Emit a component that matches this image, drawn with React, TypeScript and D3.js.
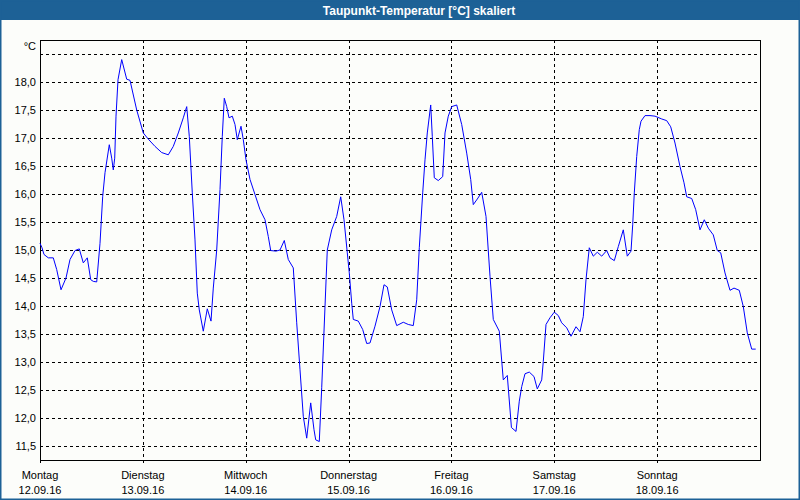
import React from "react";
import * as d3 from "d3";

const title = "Taupunkt-Temperatur [°C] skaliert";
const unitLabel = "°C";
const dayNames = ["Montag", "Dienstag", "Mittwoch", "Donnerstag", "Freitag", "Samstag", "Sonntag"];
const dayDates = ["12.09.16", "13.09.16", "14.09.16", "15.09.16", "16.09.16", "17.09.16", "18.09.16"];
const yTicks = [11.5, 12.0, 12.5, 13.0, 13.5, 14.0, 14.5, 15.0, 15.5, 16.0, 16.5, 17.0, 17.5, 18.0, 18.5];
const yLabelTicks = [11.5, 12.0, 12.5, 13.0, 13.5, 14.0, 14.5, 15.0, 15.5, 16.0, 16.5, 17.0, 17.5, 18.0];

// hours since Monday 12.09.16 00:00
const hours = [
  0.0, 0.47, 0.93, 1.94, 3.1, 3.9, 4.9, 6.07, 7.0, 8.17, 9.17, 10.1, 11.04, 11.83, 12.44, 13.23,
  14.0, 14.63, 15.17, 16.17, 16.73, 17.1, 17.43, 17.73, 18.2, 19.06, 20.23, 21.0, 22.56, 24.1,
  25.27, 26.83, 28.4, 29.94, 31.1, 32.27, 33.44, 34.23, 34.84, 35.54, 36.17, 36.7, 37.17, 38.1,
  39.04, 39.9, 40.44, 41.23, 42.0, 42.54, 43.0, 43.56, 44.1, 44.87, 45.5, 46.04, 46.9, 47.44,
  48.07, 49.0, 50.17, 51.33, 52.5, 53.27, 53.83, 55.07, 56.0, 57.0, 57.94, 59.1, 59.9, 60.67,
  61.44, 62.23, 63.16, 63.93, 64.33, 65.17, 65.73, 66.5, 67.04, 68.06, 69.23, 70.16, 70.93,
  71.7, 72.17, 72.73, 73.1, 74.27, 75.3, 76.23, 77.0, 78.17, 79.33, 80.27, 81.04, 82.06, 83.23,
  84.77, 85.94, 87.1, 87.9, 88.5, 89.3, 89.83, 90.37, 91.16, 91.54, 92.0, 92.94, 93.96, 94.5,
  95.27, 96.06, 97.23, 98.4, 99.56, 100.5, 101.1, 102.04, 103.06, 104.07, 105.0, 105.77, 107.17,
  108.1, 109.04, 110.0, 111.07, 111.84, 112.4, 113.17, 114.17, 115.27, 116.04, 117.06, 117.44,
  118.07, 119.0, 120.0, 120.94, 121.73, 122.9, 123.9, 125.07, 126.0, 126.77, 127.4, 128.17,
  129.1, 130.04, 131.06, 132.23, 133.0, 134.0, 134.94, 136.1, 137.04, 137.9, 138.3, 138.67,
  139.23, 139.84, 140.23, 141.17, 142.33, 143.5, 145.06, 146.23, 147.16, 148.17, 149.33, 150.27,
  150.9, 152.06, 153.0, 154.0, 155.0, 155.94, 157.1, 158.04, 158.84, 159.83, 161.0, 161.94,
  163.17, 164.1, 165.04, 166.06, 167.0,
];

const dewPoint = [
  15.12, 15.04, 14.92, 14.86, 14.86, 14.65, 14.29, 14.5, 14.83, 14.99, 15.02, 14.77, 14.86, 14.47, 14.44, 14.43,
  15.12, 15.96, 16.38, 16.88, 16.64, 16.43, 16.64, 17.39, 18.04, 18.4, 18.05, 18.03, 17.5, 17.09,
  16.98, 16.85, 16.74, 16.7, 16.85, 17.09, 17.36, 17.56, 17.03, 16.02, 15.18, 14.23, 13.93, 13.55,
  13.95, 13.73, 14.32, 15.0, 16.08, 17.03, 17.71, 17.56, 17.36, 17.39, 17.24, 16.97, 17.21, 16.97,
  16.61, 16.26, 15.99, 15.72, 15.54, 15.24, 14.99, 14.98, 15.0, 15.17, 14.83, 14.68, 13.7, 12.86,
  12.03, 11.64, 12.27, 11.79, 11.61, 11.58, 12.54, 13.99, 15.0, 15.36, 15.6, 15.95, 15.54,
  14.95, 14.59, 14.05, 13.76, 13.73, 13.58, 13.33, 13.34, 13.64, 13.99, 14.38, 14.34, 13.93, 13.65,
  13.71, 13.67, 13.65, 14.11, 15.04, 16.02, 16.61, 17.09, 17.59, 17.03, 16.29, 16.24, 16.31, 17.09,
  17.39, 17.56, 17.59, 17.24, 16.73, 16.26, 15.81, 15.91, 16.03, 15.6, 14.53, 13.76, 13.55,
  12.68, 12.76, 11.83, 11.76, 12.3, 12.56, 12.79, 12.82, 12.74, 12.52, 12.68, 13.01,
  13.67, 13.79, 13.89, 13.83, 13.7, 13.61, 13.46, 13.63, 13.54, 13.81, 14.47, 15.04,
  14.89, 14.96, 14.89, 14.99, 14.86, 14.81, 15.06, 15.36, 14.89, 14.98, 15.45, 16.02,
  16.67, 17.15, 17.3, 17.4, 17.4, 17.39, 17.34, 17.31, 17.2, 16.91, 16.49, 16.2,
  15.95, 15.92, 15.72, 15.36, 15.54, 15.39, 15.27, 14.99, 14.95, 14.59, 14.28, 14.32,
  14.28, 13.99, 13.52, 13.23, 13.23,
];

const W = 800;
const H = 500;
const plot = { left: 40, top: 40, right: 760, bottom: 460 };
const font = "'Liberation Sans', Arial, sans-serif";

export default function App() {
  const start = new Date(2016, 8, 12, 0, 0, 0);
  const end = d3.timeDay.offset(start, 7);
  const x = d3.scaleTime().domain([start, end]).range([plot.left, plot.right]);
  const y = d3.scaleLinear().domain([11.25, 18.75]).range([plot.bottom, plot.top]);
  const days = d3.timeDay.range(start, end);

  const data = hours.map((h, i) => ({ t: d3.timeMinute.offset(start, Math.round(h * 60)), v: dewPoint[i] }));
  const line = d3
    .line<{ t: Date; v: number }>()
    .x((d) => x(d.t))
    .y((d) => y(d.v));

  const fmt = (v: number) => v.toFixed(1).replace(".", ",");
  const px = (v: number) => Math.round(v) + 0.5;

  return (
    <svg
      width={W}
      height={H}
      style={{ position: "absolute", left: 0, top: 0, display: "block" }}
      fontFamily={font}
    >
      <rect x={0} y={0} width={W} height={H} fill="#fcfdfa" />
      <rect x={0} y={0} width={W} height={20} fill="#1d6196" />
      <rect x={0.5} y={0.5} width={W - 1} height={H - 1} fill="none" stroke="#1d6196" strokeWidth={2} />
      <text x={419} y={15} textAnchor="middle" fill="#ffffff" fontSize={12} fontWeight="bold">
        {title}
      </text>

      {/* horizontal grid */}
      {yTicks.map((t) => (
        <line
          key={"h" + t}
          x1={plot.left}
          x2={plot.right}
          y1={px(y(t))}
          y2={px(y(t))}
          stroke="#000"
          strokeWidth={1}
          strokeDasharray="3,3"
          shapeRendering="crispEdges"
        />
      ))}
      {/* vertical grid */}
      {days.slice(1).map((d) => (
        <line
          key={"v" + d.getTime()}
          x1={px(x(d))}
          x2={px(x(d))}
          y1={plot.top}
          y2={plot.bottom}
          stroke="#000"
          strokeWidth={1}
          strokeDasharray="3,3"
          shapeRendering="crispEdges"
        />
      ))}
      {/* ticks below axis */}
      {days.map((d) => (
        <line
          key={"t" + d.getTime()}
          x1={px(x(d))}
          x2={px(x(d))}
          y1={plot.bottom}
          y2={plot.bottom + 3}
          stroke="#000"
          shapeRendering="crispEdges"
        />
      ))}

      <rect
        x={plot.left + 0.5}
        y={plot.top + 0.5}
        width={plot.right - plot.left}
        height={plot.bottom - plot.top}
        fill="none"
        stroke="#000"
        strokeWidth={1}
        shapeRendering="crispEdges"
      />

      <path d={line(data) || ""} fill="none" stroke="#0000ff" strokeWidth={1} />

      {/* y labels */}
      {yLabelTicks.map((t) => (
        <text key={"yl" + t} x={36} y={y(t) + 4} textAnchor="end" fontSize={11} fill="#000">
          {fmt(t)}
        </text>
      ))}
      <text x={36} y={50} textAnchor="end" fontSize={11} fill="#000">
        {unitLabel}
      </text>

      {/* x labels */}
      {days.map((d, i) => (
        <g key={"xl" + i}>
          <text x={x(d)} y={479} textAnchor="middle" fontSize={11} fill="#000">
            {dayNames[i]}
          </text>
          <text x={x(d)} y={494} textAnchor="middle" fontSize={11} fill="#000">
            {dayDates[i]}
          </text>
        </g>
      ))}
    </svg>
  );
}
